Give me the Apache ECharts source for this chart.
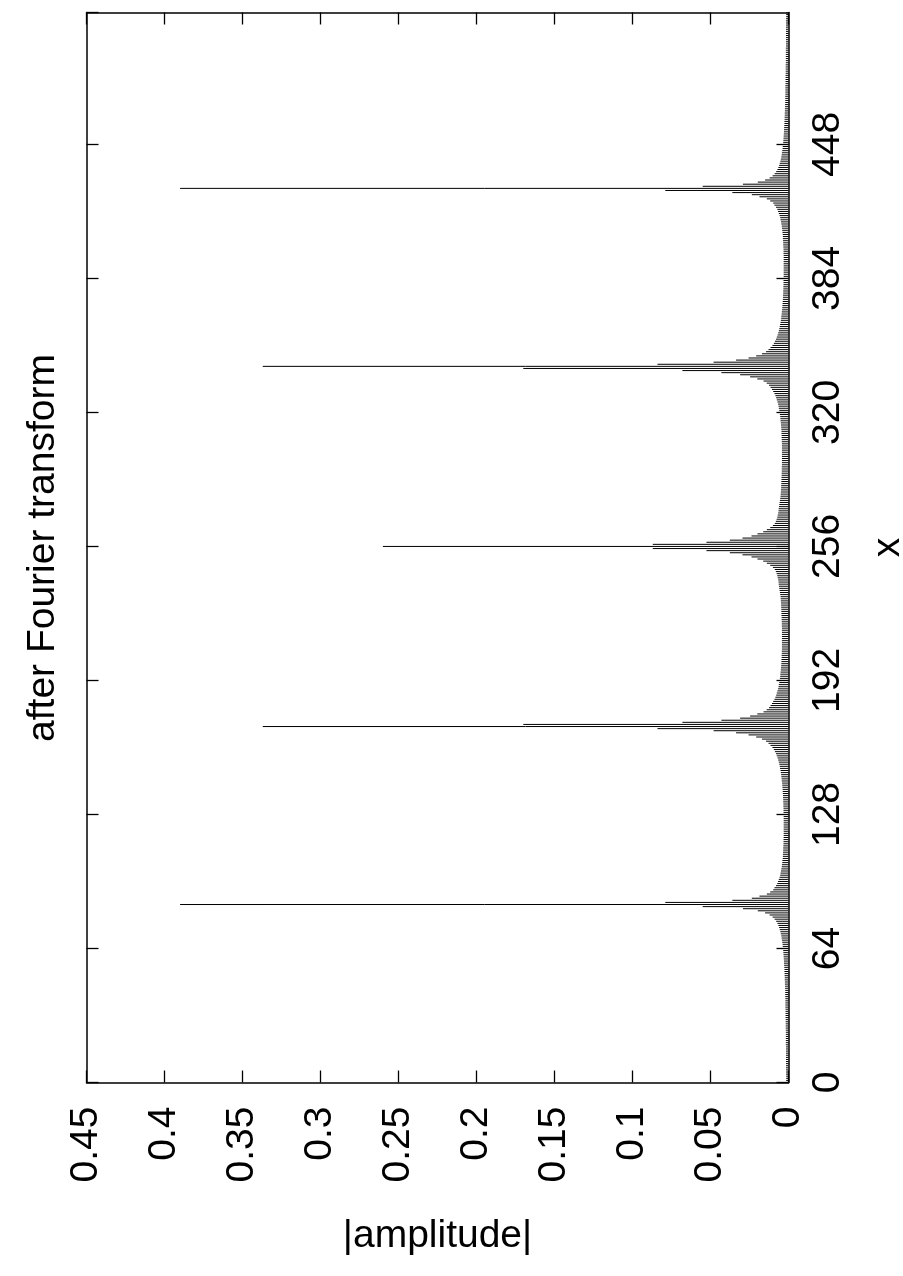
<!DOCTYPE html>
<html>
<head>
<meta charset="utf-8">
<script src="https://cdn.jsdelivr.net/npm/echarts@6/dist/echarts.min.js"></script>
<style>
html,body{margin:0;padding:0;background:#fff;}
#chart{width:903px;height:1276px;}
</style>
</head>
<body>
<div id="chart"></div>
<script>
// |amplitude| for index 0..511
const amplitude = [
// 0-69
0.0015,0.0015,0.0015,0.0015,0.0016,0.0016,0.0016,0.0016,0.0016,0.0016,
0.0016,0.0016,0.0016,0.0016,0.0016,0.0016,0.0016,0.0016,0.0017,0.0017,
0.0017,0.0017,0.0017,0.0017,0.0017,0.0017,0.0018,0.0018,0.0018,0.0018,
0.0018,0.0019,0.0019,0.0019,0.0019,0.0019,0.0020,0.0020,0.0020,0.0020,
0.0020,0.0021,0.0021,0.0021,0.0021,0.0022,0.0022,0.0023,0.0023,0.0024,
0.0024,0.0025,0.0025,0.0026,0.0026,0.0027,0.0028,0.0029,0.0029,0.0030,
0.0031,0.0032,0.0033,0.0034,0.0035,0.0037,0.0038,0.0040,0.0042,0.0044,
// 70-129
0.0046,0.0049,0.0052,0.0056,0.0060,0.0065,0.0071,0.0079,0.0089,0.0102,
0.0121,0.0150,0.0197,0.0292,0.0550,0.3900,0.0790,0.0360,0.0235,0.0186,
0.0139,0.0117,0.0098,0.0090,0.0080,0.0072,0.0067,0.0062,0.0057,0.0053,
0.0051,0.0048,0.0046,0.0043,0.0042,0.0040,0.0039,0.0037,0.0036,0.0036,
0.0035,0.0034,0.0034,0.0033,0.0032,0.0032,0.0032,0.0031,0.0031,0.0031,
0.0031,0.0031,0.0031,0.0031,0.0031,0.0031,0.0031,0.0031,0.0031,0.0032,
// 130-189
0.0032,0.0032,0.0033,0.0033,0.0034,0.0034,0.0035,0.0035,0.0036,0.0037,
0.0038,0.0039,0.0040,0.0041,0.0043,0.0044,0.0046,0.0047,0.0049,0.0051,
0.0054,0.0056,0.0059,0.0062,0.0066,0.0070,0.0075,0.0080,0.0087,0.0094,
0.0103,0.0115,0.0128,0.0144,0.0170,0.0207,0.0256,0.0336,0.0480,0.0840,
0.3370,0.1700,0.0680,0.0430,0.0310,0.0246,0.0200,0.0160,0.0140,0.0125,
0.0115,0.0106,0.0098,0.0090,0.0084,0.0079,0.0075,0.0071,0.0067,0.0064,
// 190-256
0.0062,0.0059,0.0057,0.0055,0.0053,0.0052,0.0051,0.0049,0.0048,0.0047,
0.0046,0.0045,0.0045,0.0044,0.0044,0.0043,0.0043,0.0042,0.0042,0.0042,
0.0042,0.0042,0.0042,0.0042,0.0042,0.0042,0.0042,0.0042,0.0043,0.0043,
0.0043,0.0044,0.0044,0.0045,0.0045,0.0046,0.0046,0.0047,0.0047,0.0048,
0.0049,0.0050,0.0051,0.0053,0.0055,0.0057,0.0059,0.0061,0.0063,0.0064,
0.0066,0.0069,0.0072,0.0076,0.0081,0.0088,0.0100,0.0117,0.0139,0.0162,
0.0199,0.0237,0.0295,0.0376,0.0526,0.0870,0.2600,
// 257-322
0.0870,0.0526,0.0376,0.0295,0.0237,0.0199,
0.0162,0.0139,0.0117,0.0100,0.0088,0.0081,0.0076,0.0072,0.0069,0.0066,
0.0064,0.0063,0.0061,0.0059,0.0057,0.0055,0.0053,0.0051,0.0050,0.0049,
0.0048,0.0047,0.0047,0.0046,0.0046,0.0045,0.0045,0.0044,0.0044,0.0043,
0.0043,0.0043,0.0042,0.0042,0.0042,0.0042,0.0042,0.0042,0.0042,0.0042,
0.0042,0.0042,0.0042,0.0043,0.0043,0.0044,0.0044,0.0045,0.0045,0.0046,
0.0047,0.0048,0.0049,0.0051,0.0052,0.0053,0.0055,0.0057,0.0059,0.0062,
// 323-382
0.0064,0.0067,0.0071,0.0075,0.0079,0.0084,0.0090,0.0098,0.0106,0.0115,
0.0125,0.0140,0.0160,0.0200,0.0246,0.0310,0.0430,0.0680,0.1700,0.3370,
0.0840,0.0480,0.0336,0.0256,0.0207,0.0170,0.0144,0.0128,0.0115,0.0103,
0.0094,0.0087,0.0080,0.0075,0.0070,0.0066,0.0062,0.0059,0.0056,0.0054,
0.0051,0.0049,0.0047,0.0046,0.0044,0.0043,0.0041,0.0040,0.0039,0.0038,
0.0037,0.0036,0.0035,0.0035,0.0034,0.0034,0.0033,0.0033,0.0032,0.0032,
// 383-442
0.0032,0.0031,0.0031,0.0031,0.0031,0.0031,0.0031,0.0031,0.0031,0.0031,
0.0031,0.0031,0.0031,0.0032,0.0032,0.0032,0.0033,0.0034,0.0034,0.0035,
0.0036,0.0036,0.0037,0.0039,0.0040,0.0042,0.0043,0.0046,0.0048,0.0051,
0.0053,0.0057,0.0062,0.0067,0.0072,0.0080,0.0090,0.0098,0.0117,0.0139,
0.0186,0.0235,0.0360,0.0790,0.3900,0.0550,0.0292,0.0197,0.0150,0.0121,
0.0102,0.0089,0.0079,0.0071,0.0065,0.0060,0.0056,0.0052,0.0049,0.0046,
// 443-511
0.0044,0.0042,0.0040,0.0038,0.0037,0.0035,0.0034,0.0033,0.0032,0.0031,
0.0030,0.0029,0.0029,0.0028,0.0027,0.0026,0.0026,0.0025,0.0025,0.0024,
0.0024,0.0023,0.0023,0.0022,0.0022,0.0021,0.0021,0.0021,0.0021,0.0020,
0.0020,0.0020,0.0020,0.0020,0.0019,0.0019,0.0019,0.0019,0.0019,0.0018,
0.0018,0.0018,0.0018,0.0018,0.0017,0.0017,0.0017,0.0017,0.0017,0.0017,
0.0017,0.0017,0.0016,0.0016,0.0016,0.0016,0.0016,0.0016,0.0016,0.0016,
0.0016,0.0016,0.0016,0.0016,0.0016,0.0016,0.0015,0.0015,0.0015
];

const indexTickLabels = [0, 64, 128, 192, 256, 320, 384, 448];
const amplitudeTickLabels = ['0', '0.05', '0.1', '0.15', '0.2', '0.25', '0.3', '0.35', '0.4', '0.45'];
const titleText = 'after Fourier transform';
const indexAxisName = 'x';
const amplitudeAxisName = '|amplitude|';

const FONT = '"Liberation Sans", Arial, Helvetica, sans-serif';
const FS = 39;

const chart = echarts.init(document.getElementById('chart'), null, {renderer: 'canvas'});

const axisLineStyle = {color: '#000', width: 1.5};
const tickStyle = {show: true, inside: true, length: 12, lineStyle: {color: '#000', width: 1.3}};

const option = {
  animation: false,
  backgroundColor: '#fff',
  grid: {left: 86.5, right: 114.5, top: 12.5, bottom: 193.5, containLabel: false, outerBoundsMode: 'none'},
  graphic: [{
    type: 'text',
    x: 43, y: 548,
    rotation: Math.PI / 2,
    style: {
      text: titleText,
      font: FS + 'px ' + FONT,
      fill: '#000',
      align: 'center',
      verticalAlign: 'middle'
    }
  }],
  xAxis: [{
    type: 'value',
    position: 'bottom',
    inverse: true,
    min: 0, max: 0.45, interval: 0.05,
    axisLine: {show: true, onZero: false, lineStyle: axisLineStyle},
    axisTick: tickStyle,
    splitLine: {show: false},
    axisLabel: {
      rotate: 90,
      margin: 24,
      fontFamily: FONT,
      fontSize: FS,
      color: '#000',
      formatter: (v) => {
        const i = Math.round(v / 0.05);
        return amplitudeTickLabels[i] !== undefined ? amplitudeTickLabels[i] : '';
      }
    },
    name: amplitudeAxisName,
    nameLocation: 'middle',
    nameGap: 134,
    nameTextStyle: {fontFamily: FONT, fontSize: FS, color: '#000'}
  }, {
    type: 'value',
    position: 'top',
    inverse: true,
    min: 0, max: 0.45, interval: 0.05,
    axisLine: {show: true, onZero: false, lineStyle: axisLineStyle},
    axisTick: tickStyle,
    splitLine: {show: false},
    axisLabel: {show: false}
  }],
  yAxis: [{
    type: 'value',
    position: 'right',
    min: 0, max: 511, interval: 64,
    axisLine: {show: true, onZero: false, lineStyle: axisLineStyle},
    axisTick: tickStyle,
    splitLine: {show: false},
    axisLabel: {
      rotate: 90,
      margin: 20,
      showMaxLabel: false,
      fontFamily: FONT,
      fontSize: FS,
      color: '#000',
      formatter: (v) => indexTickLabels.includes(v) ? String(v) : ''
    },
    name: indexAxisName,
    nameLocation: 'middle',
    nameRotate: 90,
    nameGap: 80,
    nameTextStyle: {fontFamily: FONT, fontSize: FS, color: '#000'}
  }, {
    type: 'value',
    position: 'left',
    min: 0, max: 511, interval: 64,
    axisLine: {show: true, onZero: false, lineStyle: axisLineStyle},
    axisTick: tickStyle,
    splitLine: {show: false},
    axisLabel: {show: false}
  }],
  series: [{
    type: 'custom',
    xAxisIndex: 0,
    yAxisIndex: 0,
    encode: {x: 0, y: 1},
    data: amplitude.map((v, k) => [v, k]),
    clip: true,
    renderItem: function (params, api) {
      const v = api.value(0);
      const k = api.value(1);
      const p0 = api.coord([0, k]);
      const p1 = api.coord([v, k]);
      return {
        type: 'line',
        shape: {x1: p0[0], y1: p0[1], x2: p1[0], y2: p1[1]},
        style: {stroke: '#000', lineWidth: 1}
      };
    }
  }]
};

chart.setOption(option);
</script>
</body>
</html>
